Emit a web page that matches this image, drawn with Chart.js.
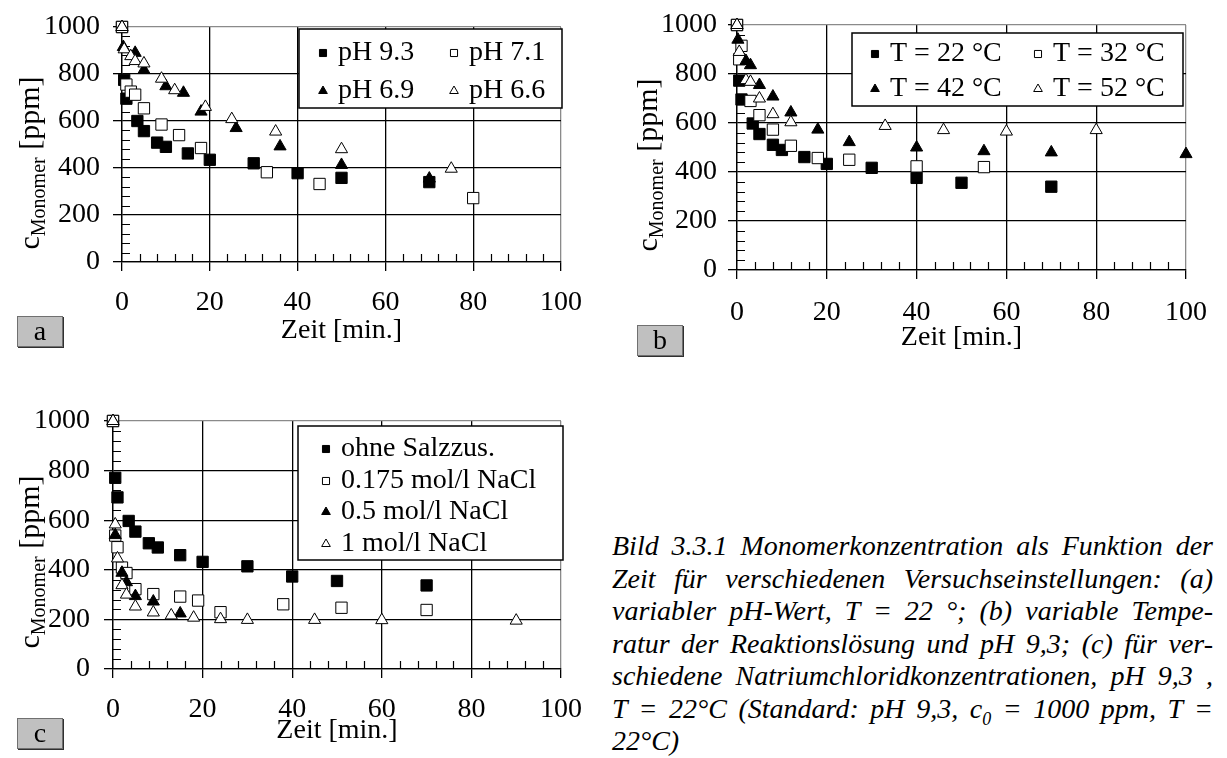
<!DOCTYPE html>
<html>
<head>
<meta charset="utf-8">
<script src="https://cdn.jsdelivr.net/npm/chart.js@4.4.0/dist/chart.umd.min.js"></script>
<style>
body { margin:0; background:#fff; width:1227px; height:758px; position:relative; overflow:hidden; font-family:"Liberation Serif", serif; color:#000; }
canvas { position:absolute; }
.ytitle { position:absolute; white-space:nowrap; font-size:30px; line-height:30px; transform:translate(-50%,-50%) rotate(-90deg); }
.ytitle sub { font-size:20px; vertical-align:-6px; line-height:0; }
.panel { position:absolute; width:44px; height:29px; background:#c0c0c0; border:1px solid #707070; box-shadow:1px 1px 0 #303030; font-size:28px; line-height:27px; text-align:center; }
.caption { position:absolute; left:612px; top:530px; width:601px; font-style:italic; font-size:28px; line-height:32.5px; }
.caption div { text-align:justify; text-align-last:justify; }
.caption div.last { text-align-last:left; }
.caption sub { font-size:18px; line-height:0; }
</style>
</head>
<body>
<canvas id="chartA" width="600" height="370" style="left:0;top:0"></canvas>
<canvas id="chartB" width="627" height="370" style="left:600px;top:0"></canvas>
<canvas id="chartC" width="600" height="378" style="left:0;top:380px"></canvas>

<div class="ytitle" style="left:29px;top:163px">c<sub>Monomer</sub> [ppm]</div>
<div class="ytitle" style="left:647px;top:165px">c<sub>Monomer</sub> [ppm]</div>
<div class="ytitle" style="left:29px;top:562px">c<sub>Monomer</sub> [ppm]</div>

<div class="panel" style="left:17px;top:316px">a</div>
<div class="panel" style="left:637px;top:325px">b</div>
<div class="panel" style="left:17px;top:718px">c</div>

<div class="caption">
<div>Bild 3.3.1 Monomerkonzentration als Funktion der</div>
<div>Zeit für verschiedenen Versuchseinstellungen: (a)</div>
<div>variabler pH-Wert, T = 22 °; (b) variable Tempe-</div>
<div>ratur der Reaktionslösung und pH 9,3; (c) für ver-</div>
<div>schiedene Natriumchloridkonzentrationen, pH 9,3 ,</div>
<div>T = 22°C (Standard: pH 9,3, c<sub>0</sub> = 1000 ppm, T =</div>
<div class="last">22°C)</div>
</div>

<script>
// axis ticks
const xTicks = [0, 20, 40, 60, 80, 100];
const yTicks = [0, 200, 400, 600, 800, 1000];
const xMinorStep = 4;
const yMinorStep = 40;

// (a) pH series
const labelsA = ['pH 9.3', 'pH 7.1', 'pH 6.9', 'pH 6.6'];
const tA93 = [0, 0.5, 1, 3.5, 5, 8, 10, 15, 20, 30, 40, 50, 70];
const cA93 = [1000, 775, 695, 600, 557, 508, 490, 462, 435, 420, 378, 358, 340];
const tA71 = [0, 1, 2, 3, 5, 9, 13, 18, 33, 45, 80];
const cA71 = [1000, 755, 725, 712, 654, 585, 540, 485, 382, 332, 272];
const tA69 = [0, 0.3, 3, 5, 10, 14, 18, 26, 36, 50, 70];
const cA69 = [1000, 915, 890, 817, 748, 720, 640, 570, 492, 413, 355];
const tA66 = [0, 0.5, 2, 3, 5, 9, 12, 19, 25, 35, 50, 75];
const cA66 = [1000, 905, 876, 855, 845, 780, 731, 660, 608, 555, 480, 397];

// (b) temperature series
const labelsB = ['T = 22 °C', 'T = 32 °C', 'T = 42 °C', 'T = 52 °C'];
const tB22 = [0, 0.5, 1, 3.5, 5, 8, 10, 15, 20, 30, 40, 50, 70];
const cB22 = [1000, 773, 696, 598, 555, 511, 490, 461, 433, 417, 376, 356, 340];
const tB32 = [0, 0.5, 1, 3, 5, 8, 12, 18, 25, 40, 55];
const cB32 = [1000, 860, 915, 690, 632, 573, 507, 457, 450, 423, 420];
const tB42 = [0, 0.2, 2, 3, 5, 8, 12, 18, 25, 40, 55, 70, 100];
const cB42 = [1000, 940, 853, 836, 755, 708, 643, 573, 522, 500, 485, 480, 473];
const tB52 = [0, 0.5, 2, 3, 5, 8, 12, 33, 46, 60, 80];
const cB52 = [1000, 890, 775, 768, 700, 636, 603, 588, 571, 565, 571];

// (c) NaCl series
const labelsC = ['ohne Salzzus.', '0.175 mol/l NaCl', '0.5 mol/l NaCl', '1 mol/l NaCl'];
const tC0 = [0, 0.5, 1, 3.5, 5, 8, 10, 15, 20, 30, 40, 50, 70];
const cC0 = [1000, 771, 692, 597, 554, 507, 490, 459, 432, 414, 373, 355, 337];
const tC175 = [0, 0.5, 1, 2, 3, 5, 9, 15, 19, 24, 38, 51, 70];
const cC175 = [1000, 538, 491, 409, 387, 322, 302, 292, 276, 229, 261, 247, 238];
const tC05 = [0, 0.5, 2, 3, 5, 9, 15];
const cC05 = [1000, 540, 388, 350, 294, 272, 224];
const tC1 = [0, 0.5, 1, 2, 3, 5, 9, 13, 18, 24, 30, 45, 60, 90];
const cC1 = [1000, 583, 446, 338, 300, 252, 228, 216, 207, 201, 198, 198, 197, 195];

const FONT = 'Liberation Serif';
const grayLine = '#8a8a8a';

// marker looks, same order in every panel
const markers = [
  { pointStyle: 'rect', radius: 8, fill: '#000' },
  { pointStyle: 'rect', radius: 8, fill: '#fff' },
  { pointStyle: 'triangle', radius: 7, fill: '#000' },
  { pointStyle: 'triangle', radius: 7, fill: '#fff' }
];

function toPoints(t, c) {
  return t.map((v, i) => ({ x: v, y: c[i] }));
}

function makeDatasets(labels, series) {
  return series.map((s, i) => ({
    label: labels[i],
    data: toPoints(s[0], s[1]),
    pointStyle: markers[i].pointStyle,
    pointRadius: markers[i].radius,
    pointBackgroundColor: markers[i].fill,
    pointBorderColor: '#000',
    pointBorderWidth: 1,
    showLine: false,
    clip: false,
    order: series.length - i   // later series on top, like the original
  }));
}

// small inside ticks between the major ones
const minorTicks = {
  id: 'minorTicks',
  beforeDatasetsDraw(chart) {
    const { ctx, scales: { x, y } } = chart;
    ctx.save();
    ctx.strokeStyle = '#000';
    ctx.lineWidth = 1.2;
    ctx.beginPath();
    for (let v = x.min + xMinorStep; v < x.max; v += xMinorStep) {
      if (xTicks.includes(v)) continue;
      const px = Math.round(x.getPixelForValue(v)) + 0.5;
      ctx.moveTo(px, y.bottom);
      ctx.lineTo(px, y.bottom - 8);
    }
    for (let v = y.min + yMinorStep; v < y.max; v += yMinorStep) {
      if (yTicks.includes(v)) continue;
      const py = Math.round(y.getPixelForValue(v)) + 0.5;
      ctx.moveTo(x.left, py);
      ctx.lineTo(x.left + 8, py);
    }
    ctx.stroke();
    ctx.restore();
  }
};

// framed legend inside the plot
const boxLegend = {
  id: 'boxLegend',
  afterDraw(chart, args, opts) {
    const ctx = chart.ctx;
    ctx.save();
    ctx.fillStyle = '#fff';
    ctx.fillRect(opts.x, opts.y, opts.w, opts.h);
    ctx.strokeStyle = '#000';
    ctx.lineWidth = 1.5;
    ctx.strokeRect(opts.x, opts.y, opts.w, opts.h);
    ctx.font = '28px "' + FONT + '"';
    ctx.textBaseline = 'middle';
    ctx.textAlign = 'left';
    chart.data.datasets.forEach((ds, i) => {
      const col = i % opts.cols.length;
      const row = Math.floor(i / opts.cols.length);
      const mx = opts.x + opts.cols[col];
      const my = opts.y + opts.rows[row];
      ctx.fillStyle = ds.pointBackgroundColor;
      ctx.strokeStyle = '#000';
      ctx.lineWidth = 1;
      Chart.helpers.drawPoint(ctx, { pointStyle: ds.pointStyle, radius: 5, borderWidth: 1, rotation: 0 }, mx, my + 1);
      ctx.fillStyle = '#000';
      ctx.fillText(ds.label, mx + 15, my + 1);
    });
    ctx.restore();
  }
};

function makeChart(id, labels, series, lay) {
  const tickFont = { family: FONT, size: 28, lineHeight: 1 };
  return new Chart(document.getElementById(id), {
    type: 'scatter',
    data: { datasets: makeDatasets(labels, series) },
    options: {
      responsive: false,
      animation: false,
      devicePixelRatio: 1,
      layout: { padding: { left: 0, top: lay.top, right: lay.right, bottom: 0 } },
      plugins: {
        legend: { display: false },
        tooltip: { enabled: false },
        boxLegend: lay.legend
      },
      scales: {
        x: {
          type: 'linear',
          min: xTicks[0],
          max: xTicks[xTicks.length - 1],
          afterBuildTicks: s => { s.ticks = xTicks.map(v => ({ value: v })); },
          afterFit: s => { s.height = lay.xHeight; },
          grid: {
            color: c => (c.tick && c.tick.value === xTicks[xTicks.length - 1]) ? grayLine : '#000',
            lineWidth: 1.3, tickLength: 9, tickColor: '#000', tickWidth: 1.3
          },
          border: { color: '#000', width: 1.3 },
          ticks: { color: '#000', font: tickFont, padding: lay.xPad, maxRotation: 0, autoSkip: false,
                   callback: v => String(v) },
          title: { display: true, text: 'Zeit [min.]', color: '#000', font: tickFont, padding: { top: 0, bottom: lay.titlePad } }
        },
        y: {
          type: 'linear',
          min: yTicks[0],
          max: yTicks[yTicks.length - 1],
          afterBuildTicks: s => { s.ticks = yTicks.map(v => ({ value: v })); },
          afterFit: s => { s.width = lay.yWidth; },
          grid: {
            color: c => (c.tick && c.tick.value === yTicks[yTicks.length - 1]) ? grayLine : '#000',
            lineWidth: 1.3, tickLength: 9, tickColor: '#000', tickWidth: 1.3
          },
          border: { color: '#000', width: 1.3 },
          ticks: { color: '#000', font: tickFont, padding: lay.yPad, callback: v => String(v) }
        }
      }
    },
    plugins: [minorTicks, boxLegend]
  });
}

makeChart('chartA', labelsA,
  [[tA93, cA93], [tA71, cA71], [tA69, cA69], [tA66, cA66]],
  { top: 22, right: 30, yWidth: 122, xHeight: 108, xPad: 18, yPad: 13, titlePad: 25,
    legend: { x: 299, y: 29, w: 263, h: 79, cols: [24, 155], rows: [23, 61] } });

makeChart('chartB', labelsB,
  [[tB22, cB22], [tB32, cB32], [tB42, cB42], [tB52, cB52]],
  { top: 22, right: 33, yWidth: 137, xHeight: 100, xPad: 20, yPad: 11, titlePad: 18,
    legend: { x: 252, y: 33, w: 331, h: 73, cols: [23, 186], rows: [20, 55] } });

makeChart('chartC', labelsC,
  [[tC0, cC0], [tC175, cC175], [tC05, cC05], [tC1, cC1]],
  { top: 41, right: 30, yWidth: 113, xHeight: 89, xPad: 18, yPad: 14, titlePad: 13,
    legend: { x: 298, y: 46, w: 265, h: 134, cols: [28], rows: [22, 54, 85, 117] } });
</script>
</body>
</html>
